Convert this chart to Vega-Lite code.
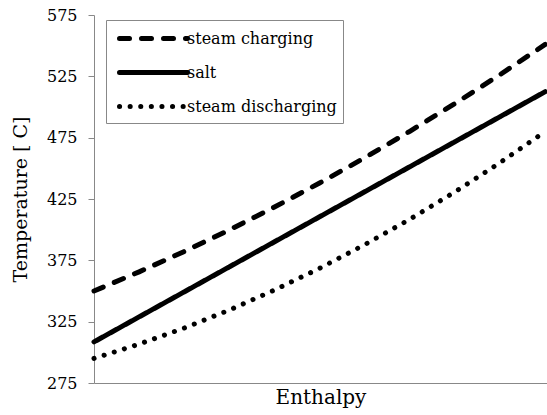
{
  "$schema": "https://vega.github.io/schema/vega-lite/v6.json",
  "width": 453,
  "height": 368,
  "autosize": "none",
  "padding": {"left": 94, "top": 15, "right": 0, "bottom": 32},
  "background": "white",
  "config": {
    "font": "DejaVu Serif",
    "view": {"stroke": null},
    "axis": {"grid": false, "domainColor": "#888888", "tickColor": "#888888", "labelColor": "#000000", "titleColor": "#000000", "labelFont": "DejaVu Serif", "titleFont": "DejaVu Serif", "titleFontWeight": "normal"},
    "legend": {"labelFont": "DejaVu Serif"}
  },
  "data": {
    "values": [
      {"u": 0.0, "T": 350.0, "series": "steam charging"},
      {"u": 0.1, "T": 365.6, "series": "steam charging"},
      {"u": 0.2, "T": 382.2, "series": "steam charging"},
      {"u": 0.3, "T": 399.8, "series": "steam charging"},
      {"u": 0.4, "T": 418.4, "series": "steam charging"},
      {"u": 0.5, "T": 438.0, "series": "steam charging"},
      {"u": 0.6, "T": 458.6, "series": "steam charging"},
      {"u": 0.7, "T": 480.2, "series": "steam charging"},
      {"u": 0.8, "T": 502.8, "series": "steam charging"},
      {"u": 0.9, "T": 526.4, "series": "steam charging"},
      {"u": 1.0, "T": 551.0, "series": "steam charging"},
      {"u": 0.0, "T": 308.5, "series": "salt"},
      {"u": 0.1, "T": 328.9, "series": "salt"},
      {"u": 0.2, "T": 349.3, "series": "salt"},
      {"u": 0.3, "T": 369.7, "series": "salt"},
      {"u": 0.4, "T": 390.1, "series": "salt"},
      {"u": 0.5, "T": 410.5, "series": "salt"},
      {"u": 0.6, "T": 430.9, "series": "salt"},
      {"u": 0.7, "T": 451.3, "series": "salt"},
      {"u": 0.8, "T": 471.7, "series": "salt"},
      {"u": 0.9, "T": 492.1, "series": "salt"},
      {"u": 1.0, "T": 512.5, "series": "salt"},
      {"u": 0.0, "T": 295.0, "series": "steam discharging"},
      {"u": 0.1, "T": 306.7, "series": "steam discharging"},
      {"u": 0.2, "T": 319.8, "series": "steam discharging"},
      {"u": 0.3, "T": 334.5, "series": "steam discharging"},
      {"u": 0.4, "T": 350.8, "series": "steam discharging"},
      {"u": 0.5, "T": 368.5, "series": "steam discharging"},
      {"u": 0.6, "T": 387.8, "series": "steam discharging"},
      {"u": 0.7, "T": 408.5, "series": "steam discharging"},
      {"u": 0.8, "T": 430.8, "series": "steam discharging"},
      {"u": 0.9, "T": 454.7, "series": "steam discharging"},
      {"u": 1.0, "T": 480.0, "series": "steam discharging"}
    ]
  },
  "mark": {"type": "line", "color": "#000000", "strokeWidth": 5, "strokeCap": "round"},
  "encoding": {
    "x": {
      "field": "u", "type": "quantitative",
      "scale": {"domain": [0, 1.004], "nice": false, "zero": false},
      "axis": {"title": "Enthalpy", "labels": false, "ticks": false, "titleFontSize": 20, "titlePadding": 4}
    },
    "y": {
      "field": "T", "type": "quantitative",
      "scale": {"domain": [275, 575], "nice": false, "zero": false},
      "axis": {"title": "Temperature [ C]", "values": [275, 325, 375, 425, 475, 525, 575], "tickSize": 6, "labelPadding": 11, "labelFontSize": 16, "titleFontSize": 19, "titlePadding": 16}
    },
    "strokeDash": {
      "field": "series", "type": "nominal",
      "scale": {"domain": ["steam charging", "salt", "steam discharging"], "range": [[10, 12], [1, 0], [0.1, 10.5]]},
      "legend": {
        "title": null,
        "orient": "none",
        "legendX": 12,
        "legendY": 5,
        "strokeColor": "#888888",
        "padding": 6,
        "symbolType": "M-0.5,0L6.3,0",
        "symbolSize": 400,
        "symbolStrokeWidth": 5,
        "symbolStrokeColor": "#000000",
        "symbolFillColor": "transparent",
        "labelFontSize": 16,
        "labelColor": "#000000",
        "labelOffset": 50,
        "rowPadding": 11,
        "encode": {"symbols": {"update": {"strokeCap": {"value": "round"}, "fill": {"value": "transparent"}}}}
      }
    }
  }
}
